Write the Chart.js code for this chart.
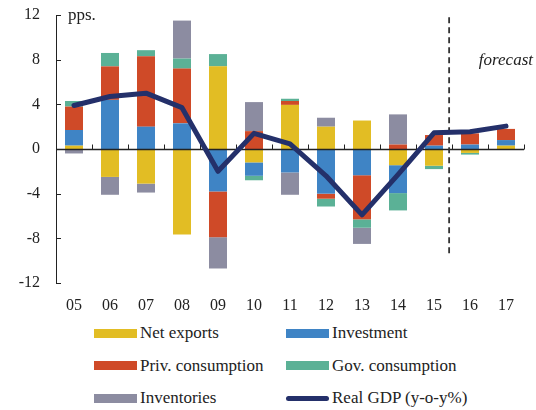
<!DOCTYPE html>
<html>
<head>
<meta charset="utf-8">
<script src="https://cdn.jsdelivr.net/npm/chart.js@4/dist/chart.umd.min.js"></script>
<style>
  html, body { margin: 0; padding: 0; background: #fff; }
  #wrap { position: relative; width: 536px; height: 410px; background: #fff; }
  #chartBox { position: absolute; left: 0; top: 0; width: 536px; height: 312px; }
  #legend { position: absolute; left: 94px; top: 317px; display: grid;
            grid-template-columns: 192px 210px; grid-auto-rows: 32.5px;
            font-family: "Liberation Serif", "Times New Roman", serif; font-size: 17px; color: #222; }
  .item { display: flex; align-items: center; white-space: nowrap; }
  .sw { width: 43px; height: 9px; margin-right: 3px; flex: none; }
  .sw.line { height: 5px; border-radius: 3px; }
</style>
</head>
<body>
<div id="wrap">
  <div id="chartBox"><canvas id="c"></canvas></div>
  <div id="legend"></div>
</div>
<script>
// ---- data ----
const years = ["05","06","07","08","09","10","11","12","13","14","15","16","17"];
const netExports  = [0.3, -2.5, -3.1, -7.65, 7.4, -1.2, 3.95, 2.0, 2.55, -1.45, -1.5, -0.35, 0.3];
const investment  = [1.4, 4.4, 2.0, 2.3, -3.8, -1.2, -2.1, -4.0, -2.35, -2.5, 0.3, 0.4, 0.5];
const privCons    = [2.1, 3.0, 6.3, 4.9, -4.1, 1.6, 0.35, -0.45, -3.95, 0.4, 0.95, 1.0, 1.0];
const govCons     = [0.5, 1.2, 0.55, 0.9, 1.1, -0.4, 0.2, -0.7, -0.75, -1.55, -0.3, -0.15, 0];
const inventories = [-0.4, -1.6, -0.8, 3.4, -2.8, 2.6, -2.0, 0.8, -1.45, 2.7, 0, 0, 0];
const realGDP     = [3.9, 4.7, 5.0, 3.7, -2.0, 1.4, 0.45, -2.4, -5.9, -2.3, 1.45, 1.55, 2.05];
const yTicks = [-12, -8, -4, 0, 4, 8, 12];
const forecastAfter = "15";   // forecast divider placed after this year
const unitLabel = "pps.";
const forecastLabel = "forecast";

const barSeries = [
  { name: "Net exports",       data: netExports,  color: "#E2BD24" },
  { name: "Investment",        data: investment,  color: "#3F84C5" },
  { name: "Priv. consumption", data: privCons,    color: "#CF4A28" },
  { name: "Gov. consumption",  data: govCons,     color: "#5BB196" },
  { name: "Inventories",       data: inventories, color: "#8C8CA1" }
];
const lineSeries = { name: "Real GDP (y-o-y%)", data: realGDP, color: "#24306A" };

const SERIF = '"Liberation Serif", "Times New Roman", serif';
const INK = "#222";

const datasets = barSeries.map(s => ({
  type: "bar", label: s.name, data: s.data, backgroundColor: s.color,
  borderWidth: 0, stack: "contrib", order: 2,
  barPercentage: 0.5, categoryPercentage: 1.0
}));
datasets.push({
  type: "line", label: lineSeries.name, data: lineSeries.data,
  borderColor: lineSeries.color, borderWidth: 5, pointRadius: 0,
  tension: 0, stack: "gdp", order: 0, borderCapStyle: "round", borderJoinStyle: "round"
});

const axesPlugin = {
  id: "customAxes",
  beforeDatasetDraw(chart, args) {
    if (args.meta.type !== "line") return;
    const ctx = chart.ctx, x = chart.scales.x, y = chart.scales.y, a = chart.chartArea;
    ctx.save();
    ctx.strokeStyle = INK; ctx.lineWidth = 1;
    // y axis line
    ctx.beginPath(); ctx.moveTo(a.left + 0.5, a.top); ctx.lineTo(a.left + 0.5, a.bottom); ctx.stroke();
    // inward ticks
    yTicks.forEach(v => {
      const py = Math.round(y.getPixelForValue(v)) + 0.5;
      ctx.beginPath(); ctx.moveTo(a.left, py); ctx.lineTo(a.left + 5, py); ctx.stroke();
    });
    // zero line
    const y0 = Math.round(y.getPixelForValue(0)) + 0.5;
    ctx.lineWidth = 1.5;
    ctx.beginPath(); ctx.moveTo(a.left, y0); ctx.lineTo(a.right, y0); ctx.stroke();
    // category boundary ticks (upward)
    ctx.lineWidth = 1;
    const half = (x.getPixelForValue(1) - x.getPixelForValue(0)) / 2;
    for (let i = 0; i <= years.length; i++) {
      const px = Math.round(x.getPixelForValue(i) - half) + 0.5;
      ctx.beginPath(); ctx.moveTo(px, y0); ctx.lineTo(px, y0 - 5); ctx.stroke();
    }
    // forecast divider
    const i0 = years.indexOf(forecastAfter);
    const xd = x.getPixelForValue(i0) + 0.42 * (x.getPixelForValue(i0 + 1) - x.getPixelForValue(i0));
    ctx.strokeStyle = "#333"; ctx.lineWidth = 1.8; ctx.setLineDash([6, 4]);
    ctx.beginPath(); ctx.moveTo(xd, y.getPixelForValue(11.8)); ctx.lineTo(xd, y.getPixelForValue(-9.6)); ctx.stroke();
    ctx.restore();
  },
  afterDraw(chart) {
    const ctx = chart.ctx, y = chart.scales.y, a = chart.chartArea;
    ctx.save();
    ctx.fillStyle = INK; ctx.textBaseline = "middle";
    ctx.font = "17px " + SERIF; ctx.textAlign = "left";
    ctx.fillText(unitLabel, a.left + 12, y.getPixelForValue(12) + 1);
    ctx.font = "italic 17px " + SERIF; ctx.textAlign = "right";
    ctx.fillText(forecastLabel, a.right + 9, y.getPixelForValue(7.9));
    ctx.restore();
  }
};

new Chart(document.getElementById("c"), {
  data: { labels: years, datasets },
  plugins: [axesPlugin],
  options: {
    responsive: true, maintainAspectRatio: false, animation: false,
    layout: { padding: { top: 15, right: 12, left: 0, bottom: 0 } },
    plugins: { legend: { display: false }, tooltip: { enabled: false } },
    scales: {
      x: {
        stacked: true, offset: true,
        grid: { display: false }, border: { display: false },
        ticks: { color: INK, font: { family: SERIF, size: 16 }, padding: 5, maxRotation: 0 },
        afterFit(s) { s.height = 29; }
      },
      y: {
        stacked: true, min: -12, max: 12,
        grid: { display: false, drawTicks: false }, border: { display: false },
        afterBuildTicks(s) { s.ticks = yTicks.map(v => ({ value: v })); },
        ticks: { color: INK, font: { family: SERIF, size: 16 }, padding: 16 },
        afterFit(s) { s.width = 56; s.paddingTop = 0; s.paddingBottom = 0; }
      }
    }
  }
});

// HTML legend built from the series arrays
const legend = document.getElementById("legend");
const items = barSeries.map(s => ({ name: s.name, color: s.color, line: false }));
items.push({ name: lineSeries.name, color: lineSeries.color, line: true });
items.forEach(it => {
  const d = document.createElement("div"); d.className = "item";
  const sw = document.createElement("span"); sw.className = "sw" + (it.line ? " line" : "");
  sw.style.background = it.color;
  const t = document.createElement("span"); t.textContent = it.name;
  d.appendChild(sw); d.appendChild(t); legend.appendChild(d);
});
</script>
</body>
</html>
